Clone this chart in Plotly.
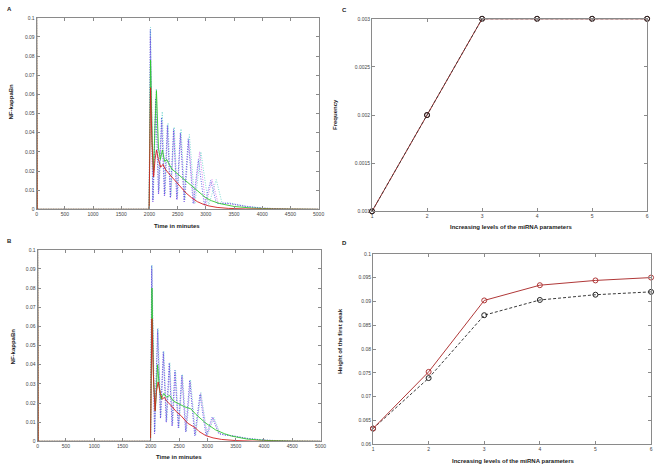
import plotly.graph_objects as go

# ---------------- Panel A data (time in minutes, NF-kappaBn) ----------------
tA_red = [0, 10, 1995, 2005, 2020, 2045, 2075, 2100, 2125, 2160, 2200, 2240, 2280, 2350, 2450, 2550, 2650, 2750, 2850, 2950, 3050, 3200, 3400, 3700, 4000, 4500, 5000]
vA_red = [0.1, 0, 0, 0.02, 0.0635, 0.035, 0.017, 0.026, 0.031, 0.026, 0.022, 0.0235, 0.021, 0.0185, 0.015, 0.0115, 0.0085, 0.006, 0.004, 0.0027, 0.0018, 0.001, 0.0005, 0.0002, 0.0001, 0, 0]

tA_green = [0, 10, 1995, 2005, 2020, 2050, 2075, 2100, 2125, 2160, 2195, 2230, 2270, 2310, 2340, 2400, 2500, 2600, 2700, 2800, 2900, 3000, 3100, 3250, 3500, 3800, 4200, 5000]
vA_green = [0.1, 0, 0, 0.03, 0.078, 0.035, 0.02, 0.045, 0.062, 0.032, 0.026, 0.031, 0.025, 0.026, 0.024, 0.021, 0.0185, 0.016, 0.0135, 0.011, 0.0085, 0.006, 0.0045, 0.003, 0.0015, 0.0007, 0.0002, 0]

tA_blue = [0, 10, 1995, 2015, 2060, 2110, 2160, 2215, 2265, 2318, 2370, 2428, 2485, 2548, 2615, 2688, 2775, 2868, 2975, 3085, 3190, 3300, 3450, 3700, 4000, 4500, 5000]
vA_blue = [0.1, 0, 0, 0.094, 0.004, 0.058, 0.008, 0.048, 0.007, 0.044, 0.006, 0.042, 0.005, 0.040, 0.004, 0.037, 0.003, 0.026, 0.002, 0.015, 0.003, 0.0032, 0.0028, 0.0015, 0.0006, 0.0001, 0]

tA_mag = [0, 10, 1995, 2017, 2063, 2115, 2165, 2220, 2270, 2322, 2375, 2432, 2490, 2552, 2620, 2695, 2790, 2890, 3000, 3110, 3220, 3330, 3470, 3720, 4000, 4500, 5000]
vA_mag = [0.1, 0, 0, 0.09, 0.004, 0.056, 0.008, 0.046, 0.007, 0.043, 0.006, 0.041, 0.005, 0.039, 0.004, 0.036, 0.003, 0.030, 0.002, 0.0155, 0.003, 0.0033, 0.0028, 0.0015, 0.0006, 0.0001, 0]

tA_cyan = [0, 10, 1995, 2020, 2068, 2122, 2172, 2228, 2278, 2330, 2383, 2440, 2498, 2560, 2630, 2708, 2808, 2912, 3050, 3185, 3290, 3400, 3520, 3750, 4050, 4500, 5000]
vA_cyan = [0.1, 0, 0, 0.095, 0.005, 0.063, 0.01, 0.051, 0.008, 0.045, 0.007, 0.043, 0.006, 0.042, 0.005, 0.039, 0.003, 0.030, 0.002, 0.0155, 0.003, 0.0035, 0.0028, 0.0015, 0.0006, 0.0001, 0]

# ---------------- Panel B data ----------------
tB_red = [0, 10, 1995, 2005, 2020, 2045, 2075, 2100, 2130, 2170, 2205, 2240, 2280, 2350, 2450, 2530, 2650, 2790, 2850, 2970, 3100, 3250, 3500, 3800, 4200, 5000]
vB_red = [0.1, 0, 0, 0.02, 0.064, 0.035, 0.016, 0.026, 0.031, 0.025, 0.022, 0.023, 0.021, 0.019, 0.0155, 0.0135, 0.0095, 0.007, 0.0052, 0.003, 0.0018, 0.001, 0.0004, 0.0001, 0, 0]

tB_green = [0, 10, 1995, 2005, 2020, 2050, 2080, 2120, 2150, 2180, 2230, 2280, 2330, 2400, 2500, 2600, 2705, 2800, 2967, 3143, 3300, 3435, 3700, 4000, 4500, 5000]
vB_green = [0.1, 0, 0, 0.03, 0.08, 0.03, 0.016, 0.040, 0.028, 0.022, 0.025, 0.023, 0.024, 0.021, 0.0195, 0.018, 0.017, 0.014, 0.0096, 0.006, 0.004, 0.0027, 0.0012, 0.0005, 0.0001, 0]

tB_blue = [0, 10, 1995, 2015, 2065, 2120, 2170, 2220, 2272, 2325, 2375, 2424, 2485, 2547, 2615, 2687, 2775, 2868, 2975, 3084, 3200, 3300, 3450, 3700, 4000, 4500, 5000]
vB_blue = [0.1, 0, 0, 0.0918, 0.004, 0.0586, 0.012, 0.047, 0.01, 0.041, 0.008, 0.037, 0.007, 0.0345, 0.005, 0.032, 0.003, 0.0246, 0.003, 0.0127, 0.004, 0.0033, 0.0028, 0.0015, 0.0006, 0.0001, 0]

tB_mag = [0, 10, 1995, 2017, 2068, 2122, 2173, 2224, 2276, 2330, 2380, 2430, 2490, 2553, 2622, 2695, 2783, 2880, 2990, 3100, 3210, 3310, 3460, 3710, 4000, 4500, 5000]
vB_mag = [0.1, 0, 0, 0.09, 0.004, 0.057, 0.012, 0.046, 0.01, 0.040, 0.008, 0.036, 0.007, 0.034, 0.005, 0.031, 0.003, 0.025, 0.003, 0.0125, 0.004, 0.0033, 0.0028, 0.0015, 0.0006, 0.0001, 0]

tB_cyan = [0, 10, 1995, 2020, 2072, 2128, 2178, 2230, 2282, 2336, 2386, 2438, 2498, 2560, 2630, 2703, 2792, 2885, 3000, 3115, 3225, 3330, 3480, 3730, 4050, 4500, 5000]
vB_cyan = [0.1, 0, 0, 0.092, 0.005, 0.059, 0.013, 0.047, 0.011, 0.041, 0.009, 0.037, 0.007, 0.035, 0.005, 0.032, 0.003, 0.0255, 0.003, 0.0125, 0.004, 0.0034, 0.0029, 0.0015, 0.0006, 0.0001, 0]

# ---------------- Panel C data ----------------
levels = [1, 2, 3, 4, 5, 6]
freq_red = [0.001, 0.002, 0.003, 0.003, 0.003, 0.003]
freq_black = [0.001, 0.002, 0.003, 0.003, 0.003, 0.003]

# ---------------- Panel D data ----------------
peak_red = [0.0633, 0.0752, 0.0902, 0.0934, 0.0944, 0.0950]
peak_black = [0.0633, 0.0739, 0.0871, 0.0903, 0.0914, 0.0920]

RED = "#d42020"
GREEN = "#30c830"
BLUE = "#3a48e0"
MAG = "#c860e8"
CYAN = "#60d0c8"

fig = go.Figure()

def add_ts(t, v, color, dash, xa, ya, width=0.8):
    fig.add_trace(go.Scatter(x=t, y=v, mode="lines", xaxis=xa, yaxis=ya,
                             line=dict(color=color, dash=dash, width=width),
                             showlegend=False, hoverinfo="skip"))

DOT = "1px,1.5px"
# Panel A
add_ts(tA_cyan, vA_cyan, CYAN, DOT, "x", "y")
add_ts(tA_mag, vA_mag, MAG, DOT, "x", "y")
add_ts(tA_blue, vA_blue, BLUE, DOT, "x", "y")
add_ts(tA_green, vA_green, GREEN, "solid", "x", "y", 0.9)
add_ts(tA_red, vA_red, RED, "solid", "x", "y", 0.9)
# Panel B
add_ts(tB_cyan, vB_cyan, CYAN, DOT, "x2", "y2")
add_ts(tB_mag, vB_mag, MAG, DOT, "x2", "y2")
add_ts(tB_blue, vB_blue, BLUE, DOT, "x2", "y2")
add_ts(tB_green, vB_green, GREEN, "solid", "x2", "y2", 0.9)
add_ts(tB_red, vB_red, RED, "solid", "x2", "y2", 0.9)

DASH = "3px,2px"
# Panel C
fig.add_trace(go.Scatter(x=levels, y=freq_red, mode="lines+markers", xaxis="x3", yaxis="y3",
                         line=dict(color="#a03030", width=1),
                         marker=dict(symbol="circle-open", size=5, color="#803030"),
                         showlegend=False, hoverinfo="skip", cliponaxis=False))
fig.add_trace(go.Scatter(x=levels, y=freq_black, mode="lines+markers", xaxis="x3", yaxis="y3",
                         line=dict(color="#333333", width=0.8, dash=DASH),
                         marker=dict(symbol="circle-open", size=5, color="#222222"),
                         showlegend=False, hoverinfo="skip", cliponaxis=False))

# Panel D
fig.add_trace(go.Scatter(x=levels, y=peak_black, mode="lines+markers", xaxis="x4", yaxis="y4",
                         line=dict(color="#222222", width=0.9, dash=DASH),
                         marker=dict(symbol="circle-open", size=5, color="#222222"),
                         showlegend=False, hoverinfo="skip", cliponaxis=False))
fig.add_trace(go.Scatter(x=levels, y=peak_red, mode="lines+markers", xaxis="x4", yaxis="y4",
                         line=dict(color="#b03838", width=1),
                         marker=dict(symbol="circle-open", size=5, color="#b03838"),
                         showlegend=False, hoverinfo="skip", cliponaxis=False))

W, H = 662, 470
def xd(a, b):
    return [a / W, b / W]
def yd(top, bottom):
    return [1 - bottom / H, 1 - top / H]

tickfont = dict(family="Liberation Sans, Arial, sans-serif", size=5, color="#444444")
common = dict(showline=True, linecolor="#8a8a8a", linewidth=1, mirror="ticks",
              ticks="inside", ticklen=3, tickcolor="#8a8a8a", showgrid=False,
              zeroline=False, tickfont=tickfont, layer="above traces")

fig.update_layout(
    width=W, height=H, margin=dict(l=0, r=0, t=0, b=0),
    paper_bgcolor="white", plot_bgcolor="white", showlegend=False,
    xaxis=dict(domain=xd(36, 321), anchor="y", range=[0, 5000], dtick=500, **common),
    yaxis=dict(domain=yd(15, 209), anchor="x", range=[0, 0.1], dtick=0.01, **common),
    xaxis2=dict(domain=xd(37, 323), anchor="y2", range=[0, 5000], dtick=500, **common),
    yaxis2=dict(domain=yd(250, 444), anchor="x2", range=[0, 0.1], dtick=0.01, **common),
    xaxis3=dict(domain=xd(375, 653), anchor="y3", range=[1, 6], dtick=1, **common),
    yaxis3=dict(domain=yd(16, 211), anchor="x3", range=[0.001, 0.003], dtick=0.0005, **common),
    xaxis4=dict(domain=xd(376, 657), anchor="y4", range=[1, 6], dtick=1, **common),
    yaxis4=dict(domain=yd(254, 447), anchor="x4", range=[0.06, 0.1], dtick=0.005, **common),
)

def ann(text, x, y, angle=0, size=6):
    fig.add_annotation(text=text, x=x / W, y=1 - y / H, xref="paper", yref="paper",
                       showarrow=False, textangle=angle,
                       font=dict(family="Liberation Sans, Arial, sans-serif", size=size, color="#222222"),
                       xanchor="center", yanchor="middle")

ann("<b>A</b>", 9, 6)
ann("<b>B</b>", 9, 241)
ann("<b>C</b>", 347, 7)
ann("<b>D</b>", 347, 243)
ann("<b>NF-kappaBn</b>", 10, 100, -90)
ann("<b>Time in minutes</b>", 178, 226)
ann("<b>NF-kappaBn</b>", 12, 348, -90)
ann("<b>Time in minutes</b>", 180, 460)
ann("<b>Frequency</b>", 337, 113, -90)
ann("<b>Increasing levels of the miRNA parameters</b>", 515, 227)
ann("<b>Height of the first peak</b>", 342, 342, -90)
ann("<b>Increasing levels of the miRNA parameters</b>", 517, 464)

fig.write_html("out.html",
               config={"displayModeBar": False, "responsive": False},
               post_script="document.documentElement.style.margin='0';document.body.style.margin='0';document.body.style.padding='0';document.body.style.overflow='hidden';")
